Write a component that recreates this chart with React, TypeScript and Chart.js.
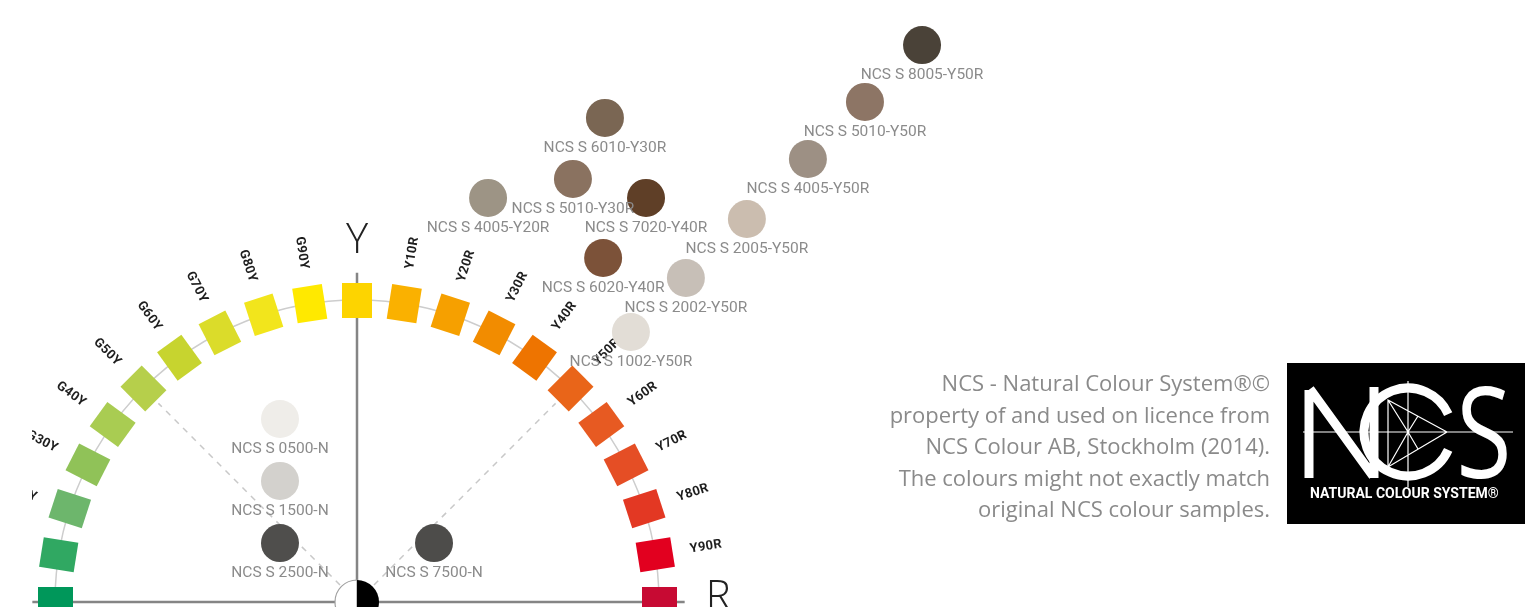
import React, { useEffect, useRef } from 'react';
import { Chart, registerables } from 'chart.js';

Chart.register(...registerables);

// ---- NCS hue circle (quarter circles Y-R and G-Y) ----
const hueNames = ['R', 'Y90R', 'Y80R', 'Y70R', 'Y60R', 'Y50R', 'Y40R', 'Y30R', 'Y20R', 'Y10R', 'Y',
  'G90Y', 'G80Y', 'G70Y', 'G60Y', 'G50Y', 'G40Y', 'G30Y', 'G20Y', 'G10Y', 'G'];
const hueAngles = [0, 9, 18, 27, 36, 45, 54, 63, 72, 81, 90, 99, 108, 117, 126, 135, 144, 153, 162, 171, 180];
const hueColors = ['#c70a33', '#e2001f', '#e33823', '#e54e25', '#e75a22', '#e96519', '#ee7400', '#f28c00', '#f6a000', '#fab100', '#fdd400',
  '#ffe900', '#f2e51c', '#dbdc2a', '#c7d42f', '#b6cf4b', '#a9cc52', '#90c258', '#6db66c', '#30a862', '#00975a'];
const hueTickLabels = ['', 'Y90R', 'Y80R', 'Y70R', 'Y60R', 'Y50R', 'Y40R', 'Y30R', 'Y20R', 'Y10R', '',
  'G90Y', 'G80Y', 'G70Y', 'G60Y', 'G50Y', 'G40Y', 'G30Y', 'G20Y', 'G10Y', ''];
const hueRadius = 100;
const axisLetters = ['R', 'Y', 'G'];
const axisLetterAngles = [0, 90, 180];
const dashedAngles = [45, 135];

// ---- NCS colour samples ----
const sampleNames = ['NCS S 8005-Y50R', 'NCS S 5010-Y50R', 'NCS S 4005-Y50R', 'NCS S 2005-Y50R', 'NCS S 2002-Y50R', 'NCS S 1002-Y50R',
  'NCS S 6020-Y40R', 'NCS S 7020-Y40R', 'NCS S 5010-Y30R', 'NCS S 6010-Y30R', 'NCS S 4005-Y20R',
  'NCS S 0500-N', 'NCS S 1500-N', 'NCS S 2500-N', 'NCS S 7500-N'];
const sampleX = [187.1, 168.2, 149.3, 129.1, 108.9, 90.7, 81.5, 95.7, 71.5, 82.1, 43.4, -25.5, -25.5, -25.5, 25.5];
const sampleY = [184.4, 165.6, 146.7, 126.8, 107.3, 89.4, 113.9, 133.8, 140.1, 160.3, 133.8, 60.6, 40.1, 19.5, 19.5];
const sampleColors = ['#4a4238', '#8d7565', '#9d9084', '#cbbdaf', '#c7bfb7', '#e2ddd6', '#7c5239', '#5f3f27', '#8a7260', '#7a6653', '#9d9485',
  '#efede9', '#d3d1cd', '#4f4e4c', '#4d4c4a'];

const noteLines = ['NCS - Natural Colour System\u00AE\u00A9', 'property of and used on licence from',
  'NCS Colour AB, Stockholm (2014).', 'The colours might not exactly match', 'original NCS colour samples.'];

const W = 1525;
const H = 607;
const LEFT = 32;
const CX = 357;
const CY = 602;
const K = 3.02;

export default function App() {
  const ref = useRef<HTMLCanvasElement>(null);

  useEffect(() => {
    const canvas = ref.current;
    if (!canvas) return;
    const rad = (d: number) => (d * Math.PI) / 180;

    const squareImgs = hueColors.map((c) => {
      const cv = document.createElement('canvas');
      cv.width = 30;
      cv.height = 35;
      const g = cv.getContext('2d')!;
      g.fillStyle = c;
      g.fillRect(0, 0, 30, 35);
      return cv;
    });

    const hueData = hueAngles.map((a) => ({ x: hueRadius * Math.cos(rad(a)), y: hueRadius * Math.sin(rad(a)) }));
    const sampleData = sampleX.map((x, i) => ({ x, y: sampleY[i] }));

    const decor = {
      id: 'ncsDecor',
      beforeDatasetsDraw(chart: any) {
        const { ctx } = chart;
        const xs = chart.scales.x;
        const ys = chart.scales.y;
        const cx = xs.getPixelForValue(0);
        const cy = ys.getPixelForValue(0);
        const u = xs.getPixelForValue(1) - cx;
        ctx.save();
        // hue circle arc
        ctx.strokeStyle = '#cdcdcd';
        ctx.lineWidth = 1.5;
        ctx.beginPath();
        ctx.arc(cx, cy, hueRadius * u, Math.PI, 2 * Math.PI);
        ctx.stroke();
        // dashed guides
        ctx.strokeStyle = '#c8c8c8';
        ctx.setLineDash([6, 6]);
        dashedAngles.forEach((a) => {
          ctx.beginPath();
          ctx.moveTo(cx, cy);
          ctx.lineTo(cx + 93 * u * Math.cos(rad(a)), cy - 93 * u * Math.sin(rad(a)));
          ctx.stroke();
        });
        ctx.setLineDash([]);
        // axes
        ctx.strokeStyle = '#858585';
        ctx.lineWidth = 2.5;
        ctx.beginPath();
        ctx.moveTo(cx, cy);
        ctx.lineTo(cx, cy - 109 * u);
        ctx.moveTo(cx - 107.5 * u, cy);
        ctx.lineTo(cx + 108.5 * u, cy);
        ctx.stroke();
        ctx.restore();
      },
      afterDatasetDraw(chart: any, args: any) {
        if (args.index !== 0) return;
        const { ctx, chartArea } = chart;
        const xs = chart.scales.x;
        const ys = chart.scales.y;
        const cx = xs.getPixelForValue(0);
        const cy = ys.getPixelForValue(0);
        const u = xs.getPixelForValue(1) - cx;
        ctx.save();
        ctx.beginPath();
        ctx.rect(chartArea.left, 0, chartArea.right - chartArea.left, H);
        ctx.clip();
        // hue labels
        ctx.fillStyle = '#1e1e1e';
        ctx.font = 'bold 13px Roboto, "DejaVu Sans", sans-serif';
        (ctx as any).letterSpacing = '0.3px';
        ctx.textAlign = 'center';
        ctx.textBaseline = 'middle';
        hueTickLabels.forEach((t, i) => {
          if (!t) return;
          const a = hueAngles[i];
          const r = 117 * u;
          const px = cx + r * Math.cos(rad(a));
          const py = cy - r * Math.sin(rad(a));
          ctx.save();
          ctx.translate(px, py);
          ctx.rotate(a < 90 ? -rad(a) : rad(180 - a));
          ctx.fillText(t, 0, 0);
          ctx.restore();
        });
        (ctx as any).letterSpacing = '0px';
        // big axis letters
        ctx.fillStyle = '#222';
        ctx.font = '300 42px "Open Sans", "DejaVu Sans", sans-serif';
        ctx.textBaseline = 'alphabetic';
        axisLetters.forEach((t, i) => {
          const a = axisLetterAngles[i];
          if (a === 90) {
            ctx.textAlign = 'center';
            ctx.fillText(t, cx, cy - 115.5 * u);
          } else if (a === 0) {
            ctx.textAlign = 'left';
            ctx.fillText(t, cx + 115.5 * u, cy + 8);
          } else {
            ctx.textAlign = 'right';
            ctx.fillText(t, cx - 115.5 * u, cy + 8);
          }
        });
        ctx.restore();
        // neutral axis marker
        ctx.save();
        const rr = 22;
        ctx.beginPath();
        ctx.arc(cx, cy, rr, Math.PI / 2, (3 * Math.PI) / 2);
        ctx.closePath();
        ctx.fillStyle = '#ffffff';
        ctx.fill();
        ctx.strokeStyle = '#a0a0a0';
        ctx.lineWidth = 1.2;
        ctx.stroke();
        ctx.beginPath();
        ctx.arc(cx, cy, rr, -Math.PI / 2, Math.PI / 2);
        ctx.closePath();
        ctx.fillStyle = '#000000';
        ctx.fill();
        ctx.restore();
      },
      afterDatasetsDraw(chart: any) {
        const { ctx } = chart;
        const meta = chart.getDatasetMeta(1);
        ctx.save();
        ctx.fillStyle = '#8b8b8b';
        ctx.font = '15.5px Roboto, "DejaVu Sans", sans-serif';
        ctx.textAlign = 'center';
        ctx.textBaseline = 'middle';
        meta.data.forEach((el: any, i: number) => {
          ctx.fillText(sampleNames[i], el.x, el.y + 30);
        });
        ctx.restore();
      },
      afterDraw(chart: any) {
        const { ctx } = chart;
        ctx.save();
        // note text
        ctx.fillStyle = '#8a8a8a';
        ctx.font = '22px "Open Sans", sans-serif';
        ctx.textAlign = 'right';
        ctx.textBaseline = 'alphabetic';
        noteLines.forEach((t, i) => ctx.fillText(t, 1270, 391 + i * 31.5));
        // logo
        ctx.fillStyle = '#000';
        ctx.fillRect(1287, 363, W - 1287, 161);
        ctx.strokeStyle = '#fff';
        ctx.fillStyle = '#fff';
        ctx.lineWidth = 1.2;
        const lx = 1408;
        const ly = 432;
        ctx.beginPath();
        ctx.moveTo(1303, ly);
        ctx.lineTo(1513, ly);
        ctx.moveTo(lx, 381);
        ctx.lineTo(lx, 487);
        // triangle
        ctx.moveTo(1388, 400);
        ctx.lineTo(1388, 467);
        ctx.lineTo(1447, ly);
        ctx.closePath();
        ctx.moveTo(1388, 400);
        ctx.lineTo(lx, ly);
        ctx.lineTo(1388, 467);
        ctx.moveTo(lx, ly);
        ctx.lineTo(1418, 416);
        ctx.moveTo(lx, ly);
        ctx.lineTo(1418, 449);
        ctx.stroke();
        // N
        ctx.lineWidth = 9;
        ctx.lineCap = 'butt';
        ctx.lineJoin = 'miter';
        ctx.beginPath();
        ctx.moveTo(1309, 478);
        ctx.lineTo(1309, 390);
        ctx.moveTo(1310, 389);
        ctx.lineTo(1373, 476);
        ctx.moveTo(1374, 478);
        ctx.lineTo(1374, 387);
        ctx.stroke();
        // C
        ctx.beginPath();
        ctx.arc(lx, ly, 44, rad(24), rad(336));
        ctx.stroke();
        // S
        ctx.save();
        ctx.translate(1484, 478);
        ctx.scale(0.8, 1);
        ctx.font = '400 126px "Open Sans", sans-serif';
        ctx.textAlign = 'center';
        ctx.textBaseline = 'alphabetic';
        ctx.fillText('S', 0, 0);
        ctx.restore();
        ctx.font = 'bold 14px Roboto, sans-serif';
        ctx.textAlign = 'left';
        ctx.textBaseline = 'middle';
        ctx.fillText('NATURAL COLOUR SYSTEM\u00AE', 1310, 494, 202);
        ctx.restore();
      },
    };

    const chart = new Chart(canvas, {
      type: 'scatter',
      data: {
        datasets: [
          {
            label: 'Hues',
            data: hueData,
            order: 2,
            clip: false,
            pointStyle: squareImgs as any,
            rotation: hueAngles.map((a) => 90 - a) as any,
            pointRadius: 17,
            backgroundColor: hueColors,
            borderWidth: 0,
          },
          {
            label: 'Samples',
            data: sampleData,
            order: 1,
            clip: false,
            pointStyle: 'circle',
            pointRadius: 19,
            backgroundColor: sampleColors,
            borderWidth: 0,
          },
        ],
      },
      options: {
        responsive: false,
        animation: false,
        devicePixelRatio: 1,
        layout: { padding: { left: LEFT, top: 0, right: 0, bottom: 0 }, autoPadding: false },
        plugins: { legend: { display: false }, tooltip: { enabled: false }, title: { display: false } },
        events: [],
        scales: {
          x: { type: 'linear', display: false, min: -(CX - LEFT) / K, max: (W - CX) / K },
          y: { type: 'linear', display: false, min: -(H - CY) / K, max: CY / K },
        },
      },
      plugins: [decor],
    });
    return () => chart.destroy();
  }, []);

  return (
    <div style={{ position: 'fixed', left: 0, top: 0, width: W, height: H, background: '#fff' }}>
      <canvas ref={ref} width={W} height={H} style={{ display: 'block', width: W, height: H }} />
    </div>
  );
}
